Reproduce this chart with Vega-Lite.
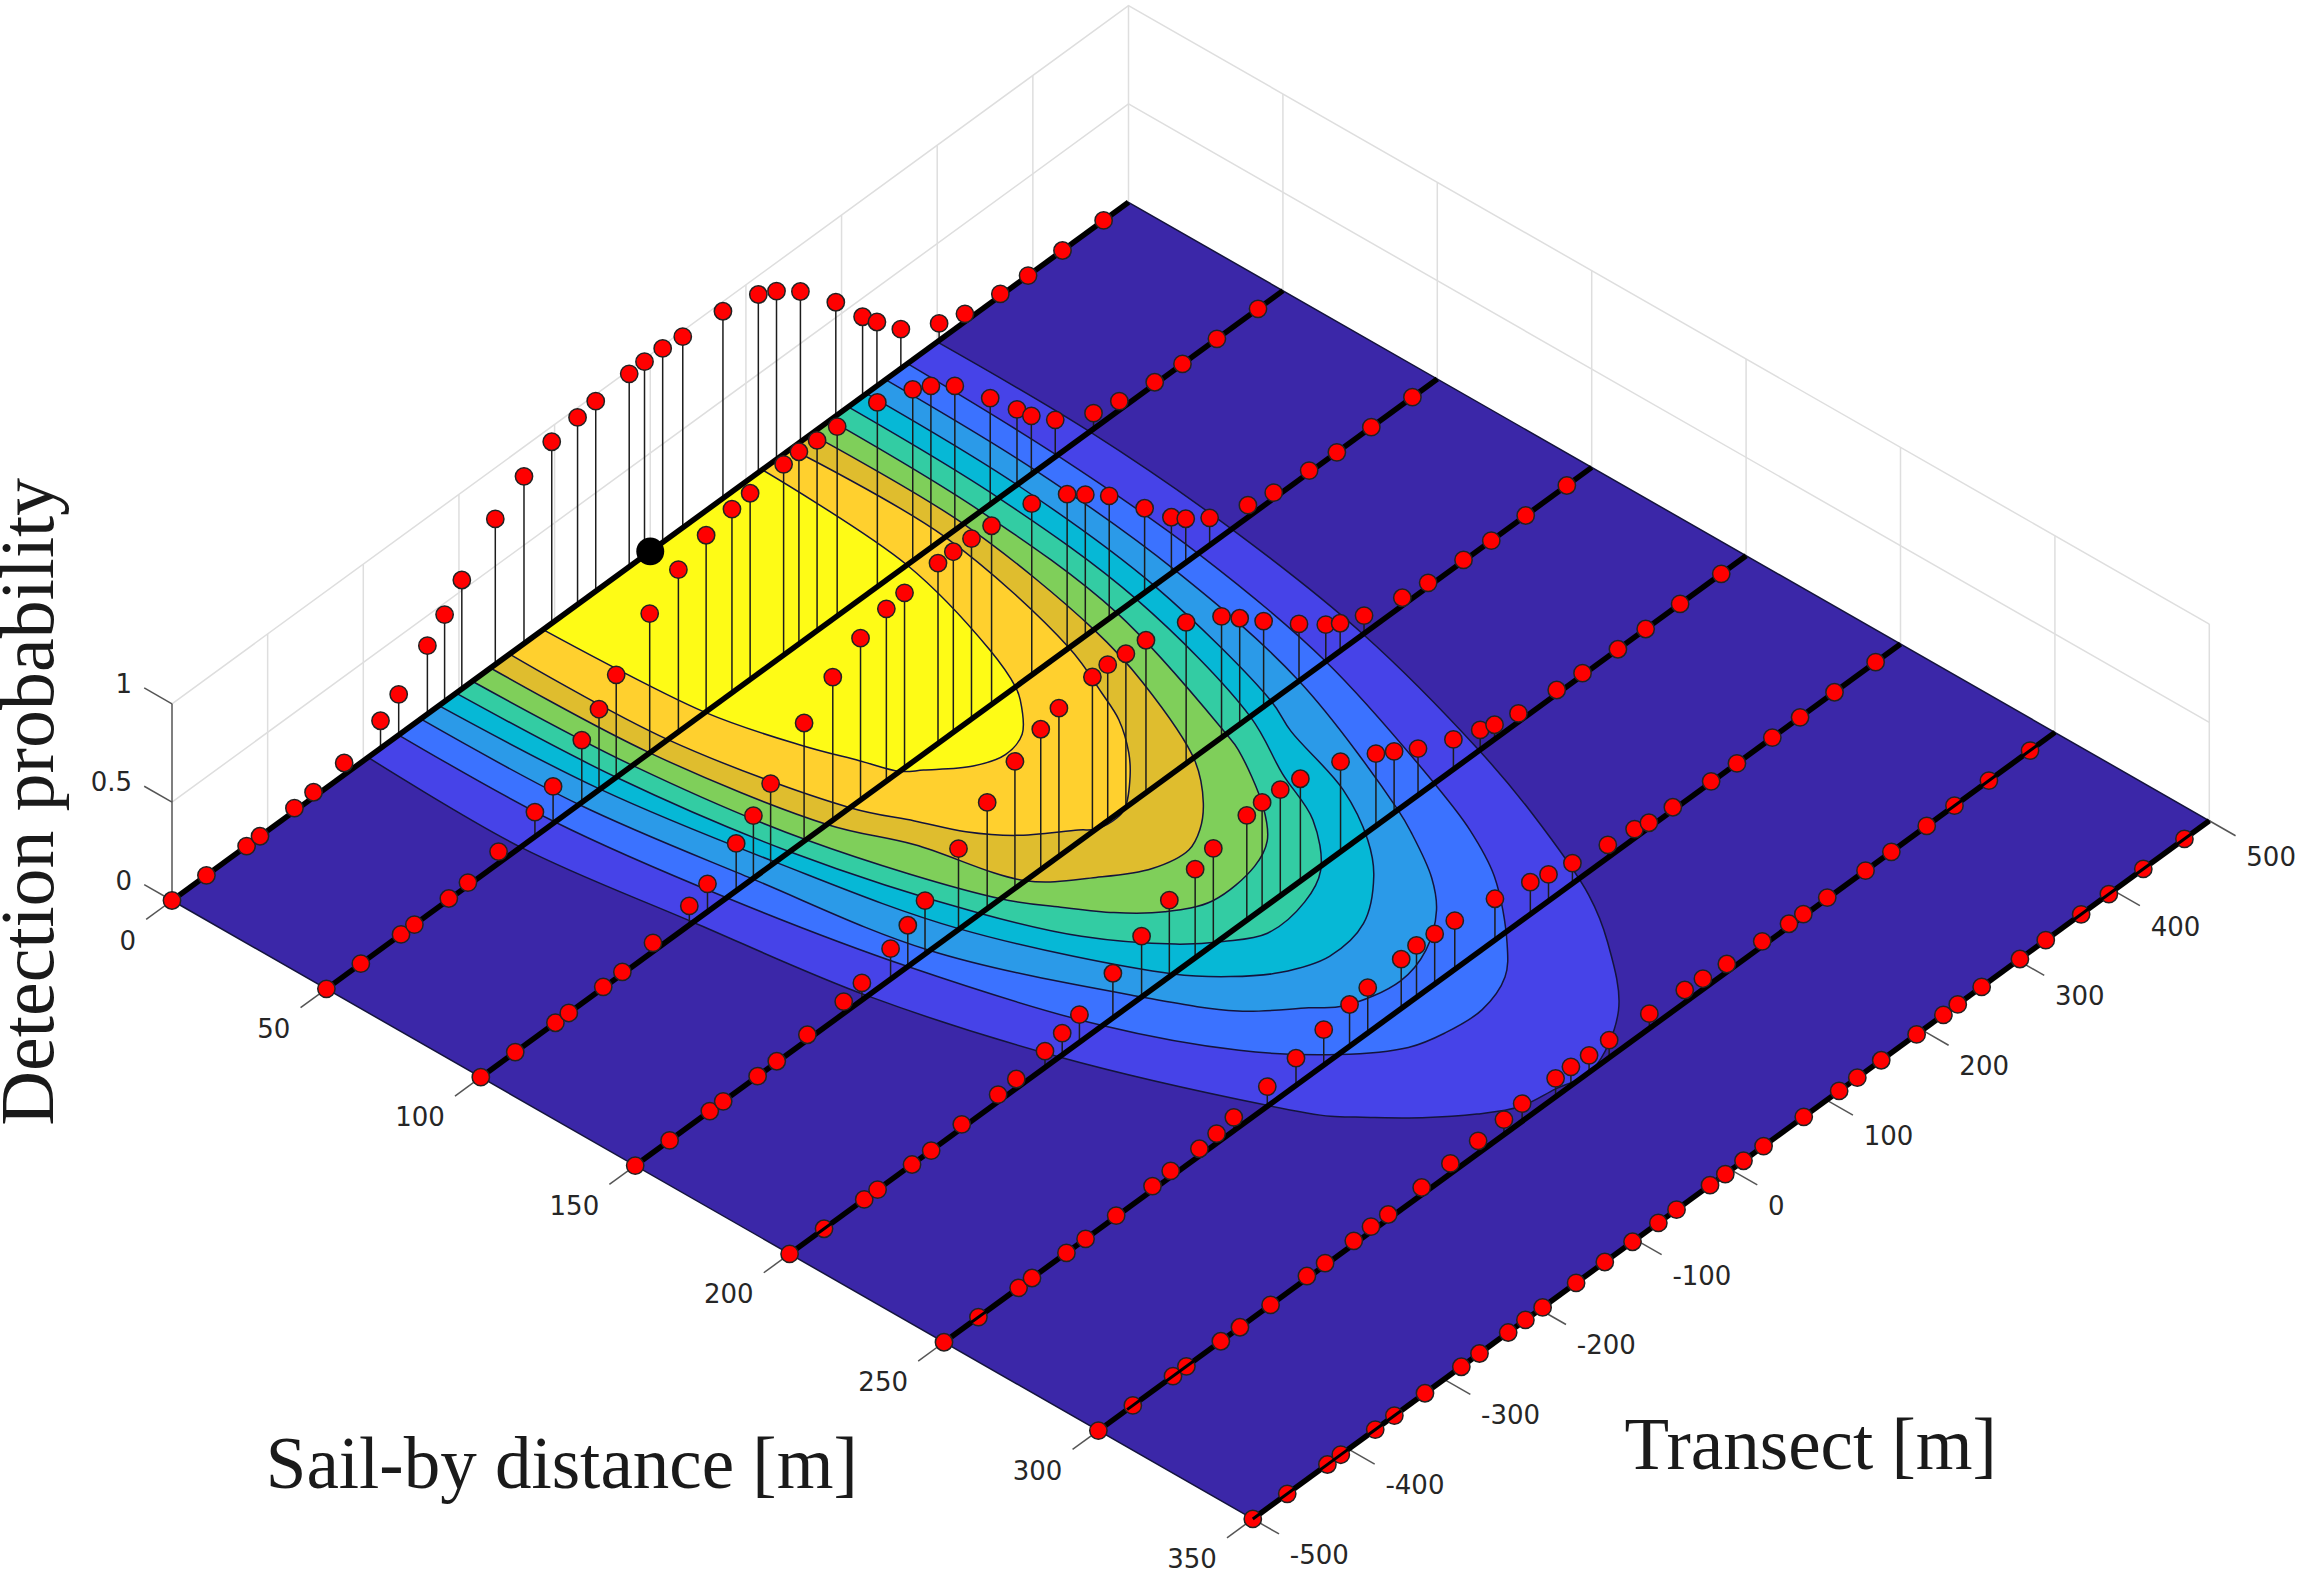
{"$schema":"https://vega.github.io/schema/vega-lite/v6.json","width":2303,"height":1573,"padding":0,"autosize":"none","background":"white","config":{"view":{"stroke":null}},
"data":{"values":[
{"k":"g","g":1,"i":0,"s":0,"t":-500,"z":0.5},{"k":"g","g":1,"i":1,"s":0,"t":500,"z":0.5},{"k":"g","g":1,"i":2,"s":350,"t":500,"z":0.5},
{"k":"g","g":2,"i":0,"s":0,"t":-500,"z":1},{"k":"g","g":2,"i":1,"s":0,"t":500,"z":1},{"k":"g","g":2,"i":2,"s":350,"t":500,"z":1},
{"k":"g","g":3,"i":0,"s":0,"t":-400,"z":0},{"k":"g","g":3,"i":1,"s":0,"t":-400,"z":1},
{"k":"g","g":4,"i":0,"s":0,"t":-300,"z":0},{"k":"g","g":4,"i":1,"s":0,"t":-300,"z":1},
{"k":"g","g":5,"i":0,"s":0,"t":-200,"z":0},{"k":"g","g":5,"i":1,"s":0,"t":-200,"z":1},
{"k":"g","g":6,"i":0,"s":0,"t":-100,"z":0},{"k":"g","g":6,"i":1,"s":0,"t":-100,"z":1},
{"k":"g","g":7,"i":0,"s":0,"t":0,"z":0},{"k":"g","g":7,"i":1,"s":0,"t":0,"z":1},
{"k":"g","g":8,"i":0,"s":0,"t":100,"z":0},{"k":"g","g":8,"i":1,"s":0,"t":100,"z":1},
{"k":"g","g":9,"i":0,"s":0,"t":200,"z":0},{"k":"g","g":9,"i":1,"s":0,"t":200,"z":1},
{"k":"g","g":10,"i":0,"s":0,"t":300,"z":0},{"k":"g","g":10,"i":1,"s":0,"t":300,"z":1},
{"k":"g","g":11,"i":0,"s":0,"t":400,"z":0},{"k":"g","g":11,"i":1,"s":0,"t":400,"z":1},
{"k":"g","g":12,"i":0,"s":0,"t":500,"z":0},{"k":"g","g":12,"i":1,"s":0,"t":500,"z":1},
{"k":"g","g":13,"i":0,"s":50,"t":500,"z":0},{"k":"g","g":13,"i":1,"s":50,"t":500,"z":1},
{"k":"g","g":14,"i":0,"s":100,"t":500,"z":0},{"k":"g","g":14,"i":1,"s":100,"t":500,"z":1},
{"k":"g","g":15,"i":0,"s":150,"t":500,"z":0},{"k":"g","g":15,"i":1,"s":150,"t":500,"z":1},
{"k":"g","g":16,"i":0,"s":200,"t":500,"z":0},{"k":"g","g":16,"i":1,"s":200,"t":500,"z":1},
{"k":"g","g":17,"i":0,"s":250,"t":500,"z":0},{"k":"g","g":17,"i":1,"s":250,"t":500,"z":1},
{"k":"g","g":18,"i":0,"s":300,"t":500,"z":0},{"k":"g","g":18,"i":1,"s":300,"t":500,"z":1},
{"k":"g","g":19,"i":0,"s":350,"t":500,"z":0},{"k":"g","g":19,"i":1,"s":350,"t":500,"z":1},
{"k":"a","g":1,"i":0,"s":0,"t":-500,"z":0},{"k":"a","g":1,"i":1,"s":0,"t":-500,"z":1},
{"k":"a","g":2,"i":0,"s":0,"t":-500,"z":0},{"k":"a","g":2,"i":1,"s":-9,"t":-500,"z":0},
{"k":"a","g":3,"i":0,"s":0,"t":-500,"z":0.5},{"k":"a","g":3,"i":1,"s":-9,"t":-500,"z":0.5},
{"k":"a","g":4,"i":0,"s":0,"t":-500,"z":1},{"k":"a","g":4,"i":1,"s":-9,"t":-500,"z":1},
{"k":"a","g":10,"i":0,"s":0,"t":-500},{"k":"a","g":10,"i":1,"s":0,"t":-527},
{"k":"a","g":11,"i":0,"s":50,"t":-500},{"k":"a","g":11,"i":1,"s":50,"t":-527},
{"k":"a","g":12,"i":0,"s":100,"t":-500},{"k":"a","g":12,"i":1,"s":100,"t":-527},
{"k":"a","g":13,"i":0,"s":150,"t":-500},{"k":"a","g":13,"i":1,"s":150,"t":-527},
{"k":"a","g":14,"i":0,"s":200,"t":-500},{"k":"a","g":14,"i":1,"s":200,"t":-527},
{"k":"a","g":15,"i":0,"s":250,"t":-500},{"k":"a","g":15,"i":1,"s":250,"t":-527},
{"k":"a","g":16,"i":0,"s":300,"t":-500},{"k":"a","g":16,"i":1,"s":300,"t":-527},
{"k":"a","g":17,"i":0,"s":350,"t":-500},{"k":"a","g":17,"i":1,"s":350,"t":-527},
{"k":"a","g":20,"i":0,"s":350,"t":-500},{"k":"a","g":20,"i":1,"s":358.5,"t":-500},
{"k":"a","g":21,"i":0,"s":350,"t":-400},{"k":"a","g":21,"i":1,"s":358.5,"t":-400},
{"k":"a","g":22,"i":0,"s":350,"t":-300},{"k":"a","g":22,"i":1,"s":358.5,"t":-300},
{"k":"a","g":23,"i":0,"s":350,"t":-200},{"k":"a","g":23,"i":1,"s":358.5,"t":-200},
{"k":"a","g":24,"i":0,"s":350,"t":-100},{"k":"a","g":24,"i":1,"s":358.5,"t":-100},
{"k":"a","g":25,"i":0,"s":350,"t":0},{"k":"a","g":25,"i":1,"s":358.5,"t":0},
{"k":"a","g":26,"i":0,"s":350,"t":100},{"k":"a","g":26,"i":1,"s":358.5,"t":100},
{"k":"a","g":27,"i":0,"s":350,"t":200},{"k":"a","g":27,"i":1,"s":358.5,"t":200},
{"k":"a","g":28,"i":0,"s":350,"t":300},{"k":"a","g":28,"i":1,"s":358.5,"t":300},
{"k":"a","g":29,"i":0,"s":350,"t":400},{"k":"a","g":29,"i":1,"s":358.5,"t":400},
{"k":"a","g":30,"i":0,"s":350,"t":500},{"k":"a","g":30,"i":1,"s":358.5,"t":500},
{"k":"f","i":0,"s":0,"t":-500},{"k":"f","i":1,"s":350,"t":-500},{"k":"f","i":2,"s":350,"t":500},{"k":"f","i":3,"s":0,"t":500},{"k":"f","i":4,"s":0,"t":-500},
{"k":"c","g":1,"i":0,"s":0,"t":-295},{"k":"c","g":1,"i":1,"s":50,"t":-297},{"k":"c","g":1,"i":2,"s":100,"t":-278},{"k":"c","g":1,"i":3,"s":150,"t":-257},{"k":"c","g":1,"i":4,"s":200,"t":-218},{"k":"c","g":1,"i":5,"s":250,"t":-161},{"k":"c","g":1,"i":6,"s":264,"t":-141},{"k":"c","g":1,"i":7,"s":270,"t":-127},{"k":"c","g":1,"i":8,"s":281,"t":-100},{"k":"c","g":1,"i":9,"s":290,"t":-72},{"k":"c","g":1,"i":10,"s":296,"t":-46},{"k":"c","g":1,"i":11,"s":298,"t":-16},{"k":"c","g":1,"i":12,"s":300,"t":16},{"k":"c","g":1,"i":13,"s":290,"t":76},{"k":"c","g":1,"i":14,"s":271,"t":126},{"k":"c","g":1,"i":15,"s":256,"t":155},{"k":"c","g":1,"i":16,"s":225,"t":195},{"k":"c","g":1,"i":17,"s":200,"t":221},{"k":"c","g":1,"i":18,"s":150,"t":261},{"k":"c","g":1,"i":19,"s":100,"t":285},{"k":"c","g":1,"i":20,"s":50,"t":298},{"k":"c","g":1,"i":21,"s":0,"t":300},
{"k":"c","g":2,"i":0,"s":0,"t":-263},{"k":"c","g":2,"i":1,"s":50,"t":-261},{"k":"c","g":2,"i":2,"s":100,"t":-243},{"k":"c","g":2,"i":3,"s":150,"t":-215},{"k":"c","g":2,"i":4,"s":200,"t":-173},{"k":"c","g":2,"i":5,"s":231,"t":-130},{"k":"c","g":2,"i":6,"s":250,"t":-88},{"k":"c","g":2,"i":7,"s":261,"t":-50},{"k":"c","g":2,"i":8,"s":264,"t":-22},{"k":"c","g":2,"i":9,"s":265,"t":14},{"k":"c","g":2,"i":10,"s":261,"t":51},{"k":"c","g":2,"i":11,"s":253,"t":79},{"k":"c","g":2,"i":12,"s":234,"t":127},{"k":"c","g":2,"i":13,"s":218,"t":153},{"k":"c","g":2,"i":14,"s":200,"t":174},{"k":"c","g":2,"i":15,"s":150,"t":222},{"k":"c","g":2,"i":16,"s":100,"t":250},{"k":"c","g":2,"i":17,"s":50,"t":264},{"k":"c","g":2,"i":18,"s":0,"t":269},
{"k":"c","g":3,"i":0,"s":0,"t":-240},{"k":"c","g":3,"i":1,"s":50,"t":-236},{"k":"c","g":3,"i":2,"s":100,"t":-216},{"k":"c","g":3,"i":3,"s":150,"t":-192},{"k":"c","g":3,"i":4,"s":200,"t":-132},{"k":"c","g":3,"i":5,"s":221,"t":-99},{"k":"c","g":3,"i":6,"s":233,"t":-64},{"k":"c","g":3,"i":7,"s":239,"t":-46},{"k":"c","g":3,"i":8,"s":243,"t":0},{"k":"c","g":3,"i":9,"s":240,"t":36},{"k":"c","g":3,"i":10,"s":232,"t":73},{"k":"c","g":3,"i":11,"s":223,"t":97},{"k":"c","g":3,"i":12,"s":208,"t":124},{"k":"c","g":3,"i":13,"s":200,"t":136},{"k":"c","g":3,"i":14,"s":150,"t":194},{"k":"c","g":3,"i":15,"s":100,"t":226},{"k":"c","g":3,"i":16,"s":50,"t":242},{"k":"c","g":3,"i":17,"s":0,"t":246},
{"k":"c","g":4,"i":0,"s":0,"t":-221},{"k":"c","g":4,"i":1,"s":50,"t":-214},{"k":"c","g":4,"i":2,"s":100,"t":-192},{"k":"c","g":4,"i":3,"s":150,"t":-161},{"k":"c","g":4,"i":4,"s":200,"t":-99},{"k":"c","g":4,"i":5,"s":211,"t":-75},{"k":"c","g":4,"i":6,"s":219,"t":-49},{"k":"c","g":4,"i":7,"s":224,"t":-13},{"k":"c","g":4,"i":8,"s":222,"t":29},{"k":"c","g":4,"i":9,"s":212,"t":72},{"k":"c","g":4,"i":10,"s":202,"t":98},{"k":"c","g":4,"i":11,"s":185,"t":127},{"k":"c","g":4,"i":12,"s":161,"t":150},{"k":"c","g":4,"i":13,"s":150,"t":165},{"k":"c","g":4,"i":14,"s":100,"t":204},{"k":"c","g":4,"i":15,"s":50,"t":222},{"k":"c","g":4,"i":16,"s":0,"t":226},
{"k":"c","g":5,"i":0,"s":0,"t":-203},{"k":"c","g":5,"i":1,"s":50,"t":-197},{"k":"c","g":5,"i":2,"s":100,"t":-177},{"k":"c","g":5,"i":3,"s":150,"t":-139},{"k":"c","g":5,"i":4,"s":174,"t":-111},{"k":"c","g":5,"i":5,"s":193,"t":-74},{"k":"c","g":5,"i":6,"s":201,"t":-50},{"k":"c","g":5,"i":7,"s":207,"t":-23},{"k":"c","g":5,"i":8,"s":206,"t":19},{"k":"c","g":5,"i":9,"s":201,"t":52},{"k":"c","g":5,"i":10,"s":187,"t":89},{"k":"c","g":5,"i":11,"s":170,"t":112},{"k":"c","g":5,"i":12,"s":150,"t":143},{"k":"c","g":5,"i":13,"s":100,"t":185},{"k":"c","g":5,"i":14,"s":50,"t":203},{"k":"c","g":5,"i":15,"s":0,"t":207},
{"k":"c","g":6,"i":0,"s":0,"t":-186},{"k":"c","g":6,"i":1,"s":50,"t":-180},{"k":"c","g":6,"i":2,"s":100,"t":-160},{"k":"c","g":6,"i":3,"s":150,"t":-118},{"k":"c","g":6,"i":4,"s":163,"t":-97},{"k":"c","g":6,"i":5,"s":174,"t":-77},{"k":"c","g":6,"i":6,"s":183,"t":-53},{"k":"c","g":6,"i":7,"s":189,"t":-22},{"k":"c","g":6,"i":8,"s":188,"t":25},{"k":"c","g":6,"i":9,"s":184,"t":51},{"k":"c","g":6,"i":10,"s":175,"t":76},{"k":"c","g":6,"i":11,"s":156,"t":111},{"k":"c","g":6,"i":12,"s":150,"t":118},{"k":"c","g":6,"i":13,"s":100,"t":165},{"k":"c","g":6,"i":14,"s":50,"t":184},{"k":"c","g":6,"i":15,"s":0,"t":188},
{"k":"c","g":7,"i":0,"s":0,"t":-167},{"k":"c","g":7,"i":1,"s":50,"t":-162},{"k":"c","g":7,"i":2,"s":100,"t":-138},{"k":"c","g":7,"i":3,"s":121,"t":-114},{"k":"c","g":7,"i":4,"s":150,"t":-92},{"k":"c","g":7,"i":5,"s":162,"t":-57},{"k":"c","g":7,"i":6,"s":170,"t":-24},{"k":"c","g":7,"i":7,"s":172,"t":8},{"k":"c","g":7,"i":8,"s":169,"t":29},{"k":"c","g":7,"i":9,"s":163,"t":52},{"k":"c","g":7,"i":10,"s":151,"t":82},{"k":"c","g":7,"i":11,"s":122,"t":121},{"k":"c","g":7,"i":12,"s":100,"t":141},{"k":"c","g":7,"i":13,"s":50,"t":166},{"k":"c","g":7,"i":14,"s":0,"t":168},
{"k":"c","g":8,"i":0,"s":0,"t":-147},{"k":"c","g":8,"i":1,"s":50,"t":-143},{"k":"c","g":8,"i":2,"s":100,"t":-114},{"k":"c","g":8,"i":3,"s":115,"t":-95},{"k":"c","g":8,"i":4,"s":127,"t":-80},{"k":"c","g":8,"i":5,"s":137,"t":-60},{"k":"c","g":8,"i":6,"s":147,"t":-27},{"k":"c","g":8,"i":7,"s":150,"t":-18},{"k":"c","g":8,"i":8,"s":151,"t":0},{"k":"c","g":8,"i":9,"s":150,"t":12},{"k":"c","g":8,"i":10,"s":143,"t":40},{"k":"c","g":8,"i":11,"s":137,"t":58},{"k":"c","g":8,"i":12,"s":127,"t":80},{"k":"c","g":8,"i":13,"s":117,"t":94},{"k":"c","g":8,"i":14,"s":100,"t":115},{"k":"c","g":8,"i":15,"s":50,"t":147},{"k":"c","g":8,"i":16,"s":0,"t":147},
{"k":"c","g":9,"i":0,"s":0,"t":-112},{"k":"c","g":9,"i":1,"s":50,"t":-104},{"k":"c","g":9,"i":2,"s":76,"t":-86},{"k":"c","g":9,"i":3,"s":90,"t":-72},{"k":"c","g":9,"i":4,"s":100,"t":-62},{"k":"c","g":9,"i":5,"s":104,"t":-50},{"k":"c","g":9,"i":6,"s":112,"t":-24},{"k":"c","g":9,"i":7,"s":115,"t":0},{"k":"c","g":9,"i":8,"s":113,"t":24},{"k":"c","g":9,"i":9,"s":104,"t":51},{"k":"c","g":9,"i":10,"s":100,"t":59},{"k":"c","g":9,"i":11,"s":86,"t":77},{"k":"c","g":9,"i":12,"s":50,"t":107},{"k":"c","g":9,"i":13,"s":0,"t":117},
{"k":"l","g":0,"i":0,"s":0,"t":-500},{"k":"l","g":0,"i":1,"s":0,"t":500},{"k":"l","g":50,"i":0,"s":50,"t":-500},{"k":"l","g":50,"i":1,"s":50,"t":500},{"k":"l","g":100,"i":0,"s":100,"t":-500},{"k":"l","g":100,"i":1,"s":100,"t":500},{"k":"l","g":150,"i":0,"s":150,"t":-500},{"k":"l","g":150,"i":1,"s":150,"t":500},{"k":"l","g":200,"i":0,"s":200,"t":-500},{"k":"l","g":200,"i":1,"s":200,"t":500},{"k":"l","g":250,"i":0,"s":250,"t":-500},{"k":"l","g":250,"i":1,"s":250,"t":500},{"k":"l","g":300,"i":0,"s":300,"t":-500},{"k":"l","g":300,"i":1,"s":300,"t":500},{"k":"l","g":350,"i":0,"s":350,"t":-500},{"k":"l","g":350,"i":1,"s":350,"t":500},
{"k":"p","s":0,"t":-500,"z":0},{"k":"p","s":0,"t":-464,"z":0},{"k":"p","s":0,"t":-422,"z":0},{"k":"p","s":0,"t":-408,"z":0},{"k":"p","s":0,"t":-372,"z":0.015},{"k":"p","s":0,"t":-352,"z":0.025},{"k":"p","s":0,"t":-320,"z":0.06},{"k":"p","s":0,"t":-282,"z":0.14},{"k":"p","s":0,"t":-263,"z":0.207},{"k":"p","s":0,"t":-233,"z":0.348},{"k":"p","s":0,"t":-215,"z":0.442},{"k":"p","s":0,"t":-197,"z":0.554},{"k":"p","s":0,"t":-162,"z":0.74},{"k":"p","s":0,"t":-132,"z":0.85},{"k":"p","s":0,"t":-103,"z":0.923},{"k":"p","s":0,"t":-76,"z":0.951},{"k":"p","s":0,"t":-57,"z":0.966},{"k":"p","s":0,"t":-22,"z":0.981},{"k":"p","s":0,"t":-6,"z":0.986},{"k":"p","s":0,"t":13,"z":0.986},{"k":"p","s":0,"t":34,"z":0.971},{"k":"p","s":0,"t":76,"z":0.951},{"k":"p","s":0,"t":113,"z":0.905},{"k":"p","s":0,"t":132,"z":0.855},{"k":"p","s":0,"t":157,"z":0.764},{"k":"p","s":0,"t":194,"z":0.578},{"k":"p","s":0,"t":222,"z":0.405},{"k":"p","s":0,"t":237,"z":0.325},{"k":"p","s":0,"t":262,"z":0.2},{"k":"p","s":0,"t":302,"z":0.087},{"k":"p","s":0,"t":329,"z":0.04},{"k":"p","s":0,"t":366,"z":0.01},{"k":"p","s":0,"t":395,"z":0},{"k":"p","s":0,"t":431,"z":0},{"k":"p","s":0,"t":474,"z":0},
{"k":"p","s":50,"t":-500,"z":0},{"k":"p","s":50,"t":-464,"z":0},{"k":"p","s":50,"t":-422,"z":0},{"k":"p","s":50,"t":-408,"z":0},{"k":"p","s":50,"t":-372,"z":0.005},{"k":"p","s":50,"t":-352,"z":0.015},{"k":"p","s":50,"t":-320,"z":0.059},{"k":"p","s":50,"t":-282,"z":0.125},{"k":"p","s":50,"t":-263,"z":0.188},{"k":"p","s":50,"t":-233,"z":0.317},{"k":"p","s":50,"t":-215,"z":0.41},{"k":"p","s":50,"t":-197,"z":0.521},{"k":"p","s":50,"t":-162,"z":0.708},{"k":"p","s":50,"t":-132,"z":0.825},{"k":"p","s":50,"t":-103,"z":0.897},{"k":"p","s":50,"t":-76,"z":0.934},{"k":"p","s":50,"t":-57,"z":0.947},{"k":"p","s":50,"t":-22,"z":0.97},{"k":"p","s":50,"t":-6,"z":0.977},{"k":"p","s":50,"t":13,"z":0.967},{"k":"p","s":50,"t":34,"z":0.963},{"k":"p","s":50,"t":76,"z":0.937},{"k":"p","s":50,"t":113,"z":0.872},{"k":"p","s":50,"t":132,"z":0.822},{"k":"p","s":50,"t":157,"z":0.733},{"k":"p","s":50,"t":194,"z":0.54},{"k":"p","s":50,"t":222,"z":0.383},{"k":"p","s":50,"t":237,"z":0.297},{"k":"p","s":50,"t":262,"z":0.188},{"k":"p","s":50,"t":302,"z":0.08},{"k":"p","s":50,"t":329,"z":0.045},{"k":"p","s":50,"t":366,"z":0.01},{"k":"p","s":50,"t":395,"z":0},{"k":"p","s":50,"t":431,"z":0},{"k":"p","s":50,"t":474,"z":0},
{"k":"p","s":100,"t":-500,"z":0},{"k":"p","s":100,"t":-464,"z":0},{"k":"p","s":100,"t":-422,"z":0},{"k":"p","s":100,"t":-408,"z":0},{"k":"p","s":100,"t":-372,"z":0.005},{"k":"p","s":100,"t":-352,"z":0.01},{"k":"p","s":100,"t":-320,"z":0.044},{"k":"p","s":100,"t":-282,"z":0.097},{"k":"p","s":100,"t":-263,"z":0.142},{"k":"p","s":100,"t":-233,"z":0.241},{"k":"p","s":100,"t":-215,"z":0.318},{"k":"p","s":100,"t":-197,"z":0.417},{"k":"p","s":100,"t":-162,"z":0.601},{"k":"p","s":100,"t":-132,"z":0.728},{"k":"p","s":100,"t":-103,"z":0.823},{"k":"p","s":100,"t":-76,"z":0.876},{"k":"p","s":100,"t":-57,"z":0.89},{"k":"p","s":100,"t":-22,"z":0.917},{"k":"p","s":100,"t":-6,"z":0.918},{"k":"p","s":100,"t":13,"z":0.917},{"k":"p","s":100,"t":34,"z":0.908},{"k":"p","s":100,"t":76,"z":0.871},{"k":"p","s":100,"t":113,"z":0.788},{"k":"p","s":100,"t":132,"z":0.718},{"k":"p","s":100,"t":157,"z":0.623},{"k":"p","s":100,"t":194,"z":0.429},{"k":"p","s":100,"t":222,"z":0.284},{"k":"p","s":100,"t":237,"z":0.223},{"k":"p","s":100,"t":262,"z":0.139},{"k":"p","s":100,"t":302,"z":0.062},{"k":"p","s":100,"t":329,"z":0.029},{"k":"p","s":100,"t":366,"z":0.01},{"k":"p","s":100,"t":395,"z":0},{"k":"p","s":100,"t":431,"z":0},{"k":"p","s":100,"t":474,"z":0},
{"k":"p","s":150,"t":-500,"z":0},{"k":"p","s":150,"t":-464,"z":0},{"k":"p","s":150,"t":-422,"z":0},{"k":"p","s":150,"t":-408,"z":0},{"k":"p","s":150,"t":-372,"z":0},{"k":"p","s":150,"t":-352,"z":0.005},{"k":"p","s":150,"t":-320,"z":0.026},{"k":"p","s":150,"t":-282,"z":0.06},{"k":"p","s":150,"t":-263,"z":0.087},{"k":"p","s":150,"t":-233,"z":0.155},{"k":"p","s":150,"t":-215,"z":0.21},{"k":"p","s":150,"t":-197,"z":0.271},{"k":"p","s":150,"t":-162,"z":0.411},{"k":"p","s":150,"t":-132,"z":0.54},{"k":"p","s":150,"t":-103,"z":0.646},{"k":"p","s":150,"t":-76,"z":0.713},{"k":"p","s":150,"t":-57,"z":0.753},{"k":"p","s":150,"t":-22,"z":0.787},{"k":"p","s":150,"t":-6,"z":0.793},{"k":"p","s":150,"t":13,"z":0.781},{"k":"p","s":150,"t":34,"z":0.775},{"k":"p","s":150,"t":76,"z":0.717},{"k":"p","s":150,"t":113,"z":0.616},{"k":"p","s":150,"t":132,"z":0.539},{"k":"p","s":150,"t":157,"z":0.436},{"k":"p","s":150,"t":194,"z":0.29},{"k":"p","s":150,"t":222,"z":0.187},{"k":"p","s":150,"t":237,"z":0.141},{"k":"p","s":150,"t":262,"z":0.091},{"k":"p","s":150,"t":302,"z":0.04},{"k":"p","s":150,"t":329,"z":0.02},{"k":"p","s":150,"t":366,"z":0.005},{"k":"p","s":150,"t":395,"z":0},{"k":"p","s":150,"t":431,"z":0},{"k":"p","s":150,"t":474,"z":0},
{"k":"p","s":200,"t":-500,"z":0},{"k":"p","s":200,"t":-464,"z":0},{"k":"p","s":200,"t":-422,"z":0},{"k":"p","s":200,"t":-408,"z":0},{"k":"p","s":200,"t":-372,"z":0},{"k":"p","s":200,"t":-352,"z":0},{"k":"p","s":200,"t":-320,"z":0.02},{"k":"p","s":200,"t":-282,"z":0.036},{"k":"p","s":200,"t":-263,"z":0.048},{"k":"p","s":200,"t":-233,"z":0.083},{"k":"p","s":200,"t":-215,"z":0.111},{"k":"p","s":200,"t":-197,"z":0.141},{"k":"p","s":200,"t":-162,"z":0.227},{"k":"p","s":200,"t":-132,"z":0.309},{"k":"p","s":200,"t":-103,"z":0.389},{"k":"p","s":200,"t":-76,"z":0.451},{"k":"p","s":200,"t":-57,"z":0.489},{"k":"p","s":200,"t":-22,"z":0.533},{"k":"p","s":200,"t":-6,"z":0.542},{"k":"p","s":200,"t":13,"z":0.539},{"k":"p","s":200,"t":34,"z":0.52},{"k":"p","s":200,"t":76,"z":0.458},{"k":"p","s":200,"t":113,"z":0.367},{"k":"p","s":200,"t":132,"z":0.311},{"k":"p","s":200,"t":157,"z":0.237},{"k":"p","s":200,"t":194,"z":0.152},{"k":"p","s":200,"t":222,"z":0.101},{"k":"p","s":200,"t":237,"z":0.074},{"k":"p","s":200,"t":262,"z":0.043},{"k":"p","s":200,"t":302,"z":0.02},{"k":"p","s":200,"t":329,"z":0.01},{"k":"p","s":200,"t":366,"z":0},{"k":"p","s":200,"t":395,"z":0},{"k":"p","s":200,"t":431,"z":0},{"k":"p","s":200,"t":474,"z":0},
{"k":"p","s":250,"t":-500,"z":0},{"k":"p","s":250,"t":-464,"z":0},{"k":"p","s":250,"t":-422,"z":0},{"k":"p","s":250,"t":-408,"z":0},{"k":"p","s":250,"t":-372,"z":0},{"k":"p","s":250,"t":-352,"z":0},{"k":"p","s":250,"t":-320,"z":0.005},{"k":"p","s":250,"t":-282,"z":0.02},{"k":"p","s":250,"t":-263,"z":0.03},{"k":"p","s":250,"t":-233,"z":0.036},{"k":"p","s":250,"t":-215,"z":0.049},{"k":"p","s":250,"t":-197,"z":0.068},{"k":"p","s":250,"t":-162,"z":0.1},{"k":"p","s":250,"t":-132,"z":0.138},{"k":"p","s":250,"t":-103,"z":0.18},{"k":"p","s":250,"t":-76,"z":0.212},{"k":"p","s":250,"t":-57,"z":0.23},{"k":"p","s":250,"t":-22,"z":0.251},{"k":"p","s":250,"t":-6,"z":0.264},{"k":"p","s":250,"t":13,"z":0.255},{"k":"p","s":250,"t":34,"z":0.248},{"k":"p","s":250,"t":76,"z":0.21},{"k":"p","s":250,"t":113,"z":0.163},{"k":"p","s":250,"t":132,"z":0.135},{"k":"p","s":250,"t":157,"z":0.104},{"k":"p","s":250,"t":194,"z":0.065},{"k":"p","s":250,"t":222,"z":0.046},{"k":"p","s":250,"t":237,"z":0.025},{"k":"p","s":250,"t":262,"z":0.015},{"k":"p","s":250,"t":302,"z":0.005},{"k":"p","s":250,"t":329,"z":0},{"k":"p","s":250,"t":366,"z":0},{"k":"p","s":250,"t":395,"z":0},{"k":"p","s":250,"t":431,"z":0},{"k":"p","s":250,"t":474,"z":0},
{"k":"p","s":300,"t":-500,"z":0},{"k":"p","s":300,"t":-464,"z":0},{"k":"p","s":300,"t":-422,"z":0},{"k":"p","s":300,"t":-408,"z":0},{"k":"p","s":300,"t":-372,"z":0},{"k":"p","s":300,"t":-352,"z":0},{"k":"p","s":300,"t":-320,"z":0},{"k":"p","s":300,"t":-282,"z":0.012},{"k":"p","s":300,"t":-263,"z":0.01},{"k":"p","s":300,"t":-233,"z":0.017},{"k":"p","s":300,"t":-215,"z":0.025},{"k":"p","s":300,"t":-197,"z":0.023},{"k":"p","s":300,"t":-162,"z":0.036},{"k":"p","s":300,"t":-132,"z":0.052},{"k":"p","s":300,"t":-103,"z":0.064},{"k":"p","s":300,"t":-76,"z":0.076},{"k":"p","s":300,"t":-57,"z":0.09},{"k":"p","s":300,"t":-22,"z":0.094},{"k":"p","s":300,"t":-6,"z":0.096},{"k":"p","s":300,"t":13,"z":0.087},{"k":"p","s":300,"t":34,"z":0.09},{"k":"p","s":300,"t":76,"z":0.075},{"k":"p","s":300,"t":113,"z":0.064},{"k":"p","s":300,"t":132,"z":0.054},{"k":"p","s":300,"t":157,"z":0.04},{"k":"p","s":300,"t":194,"z":0.024},{"k":"p","s":300,"t":222,"z":0.014},{"k":"p","s":300,"t":237,"z":0.01},{"k":"p","s":300,"t":262,"z":0.005},{"k":"p","s":300,"t":302,"z":0},{"k":"p","s":300,"t":329,"z":0},{"k":"p","s":300,"t":366,"z":0},{"k":"p","s":300,"t":395,"z":0},{"k":"p","s":300,"t":431,"z":0},{"k":"p","s":300,"t":474,"z":0},
{"k":"p","s":350,"t":-500,"z":0},{"k":"p","s":350,"t":-464,"z":0},{"k":"p","s":350,"t":-422,"z":0},{"k":"p","s":350,"t":-408,"z":0},{"k":"p","s":350,"t":-372,"z":0},{"k":"p","s":350,"t":-352,"z":0},{"k":"p","s":350,"t":-320,"z":0},{"k":"p","s":350,"t":-282,"z":0},{"k":"p","s":350,"t":-263,"z":0},{"k":"p","s":350,"t":-233,"z":0},{"k":"p","s":350,"t":-215,"z":0},{"k":"p","s":350,"t":-197,"z":0},{"k":"p","s":350,"t":-162,"z":0},{"k":"p","s":350,"t":-132,"z":0},{"k":"p","s":350,"t":-103,"z":0},{"k":"p","s":350,"t":-76,"z":0},{"k":"p","s":350,"t":-57,"z":0},{"k":"p","s":350,"t":-22,"z":0},{"k":"p","s":350,"t":-6,"z":0},{"k":"p","s":350,"t":13,"z":0},{"k":"p","s":350,"t":34,"z":0},{"k":"p","s":350,"t":76,"z":0},{"k":"p","s":350,"t":113,"z":0},{"k":"p","s":350,"t":132,"z":0},{"k":"p","s":350,"t":157,"z":0},{"k":"p","s":350,"t":194,"z":0},{"k":"p","s":350,"t":222,"z":0},{"k":"p","s":350,"t":237,"z":0},{"k":"p","s":350,"t":262,"z":0},{"k":"p","s":350,"t":302,"z":0},{"k":"p","s":350,"t":329,"z":0},{"k":"p","s":350,"t":366,"z":0},{"k":"p","s":350,"t":395,"z":0},{"k":"p","s":350,"t":431,"z":0},{"k":"p","s":350,"t":474,"z":0},
{"k":"o","g":1,"i":0,"s":350,"t":-500},{"k":"o","g":1,"i":1,"s":350,"t":-400},
{"k":"o","g":2,"i":0,"s":350,"t":-380},{"k":"o","g":2,"i":1,"s":350,"t":-345},
{"k":"o","g":3,"i":0,"s":350,"t":355},{"k":"o","g":3,"i":1,"s":350,"t":500},
{"k":"o","g":4,"i":0,"s":300,"t":-470},{"k":"o","g":4,"i":1,"s":300,"t":-400},
{"k":"o","g":5,"i":0,"s":300,"t":385},{"k":"o","g":5,"i":1,"s":300,"t":500},
{"k":"o","g":6,"i":0,"s":250,"t":-480},{"k":"o","g":6,"i":1,"s":250,"t":-450},
{"k":"o","g":7,"i":0,"s":200,"t":-480},{"k":"o","g":7,"i":1,"s":200,"t":-450},
{"k":"h","s":0,"t":0,"z":0},
{"k":"xl","s":0,"t":-500,"lab":"0"},{"k":"xl","s":50,"t":-500,"lab":"50"},{"k":"xl","s":100,"t":-500,"lab":"100"},{"k":"xl","s":150,"t":-500,"lab":"150"},{"k":"xl","s":200,"t":-500,"lab":"200"},{"k":"xl","s":250,"t":-500,"lab":"250"},{"k":"xl","s":300,"t":-500,"lab":"300"},{"k":"xl","s":350,"t":-500,"lab":"350"},
{"k":"yl","s":350,"t":-500,"lab":"-500"},{"k":"yl","s":350,"t":-400,"lab":"-400"},{"k":"yl","s":350,"t":-300,"lab":"-300"},{"k":"yl","s":350,"t":-200,"lab":"-200"},{"k":"yl","s":350,"t":-100,"lab":"-100"},{"k":"yl","s":350,"t":0,"lab":"0"},{"k":"yl","s":350,"t":100,"lab":"100"},{"k":"yl","s":350,"t":200,"lab":"200"},{"k":"yl","s":350,"t":300,"lab":"300"},{"k":"yl","s":350,"t":400,"lab":"400"},{"k":"yl","s":350,"t":500,"lab":"500"},
{"k":"zl","s":0,"t":-500,"z":0,"lab":"0"},{"k":"zl","s":0,"t":-500,"z":0.5,"lab":"0.5"},{"k":"zl","s":0,"t":-500,"z":1,"lab":"1"},
{"k":"tx","s":211.4,"t":-775,"lab":"Sail-by distance [m]"},{"k":"tx","s":433.4,"t":-186,"lab":"Transect [m]"},
{"k":"tz","s":-50.3,"t":-486,"lab":"Detection probability"}
]},
"transform":[
{"calculate":"172+3.088*datum.s+0.9565*(datum.t+500)","as":"px"},
{"calculate":"900.5+1.767*datum.s-0.6982*(datum.t+500)","as":"py0"},
{"calculate":"datum.py0-196.7*(datum.z||0)","as":"py"}
],
"encoding":{
"x":{"field":"px","type":"quantitative","scale":{"domain":[0,2303],"nice":false,"zero":false},"axis":null},
"y":{"field":"py","type":"quantitative","scale":{"domain":[1573,0],"nice":false,"zero":false},"axis":null}
},
"layer":[
{"transform":[{"filter":"datum.k=='g'"}],"mark":{"type":"line","stroke":"#dedede","strokeWidth":1.5},"encoding":{"detail":{"field":"g","type":"nominal"},"order":{"field":"i","type":"quantitative"}}},
{"transform":[{"filter":"datum.k=='f'"}],"mark":{"type":"line","fill":"#3b27a8","stroke":"#14143c","strokeWidth":1.5},"encoding":{"order":{"field":"i","type":"quantitative"}}},
{"transform":[{"filter":"datum.k=='c'"}],"mark":{"type":"line","stroke":"#14143c","strokeWidth":1.5,"interpolate":"catmull-rom"},"encoding":{"fill":{"field":"g","type":"ordinal","legend":null,"scale":{"range":["#4643e8","#3b72ff","#2b9ae8","#06b8d6","#33cca3","#7fcf5a","#dfbd2e","#ffd02e","#fefb16"]}},"detail":{"field":"g","type":"ordinal"},"order":{"field":"i","type":"quantitative"}}},
{"transform":[{"filter":"datum.k=='a'"}],"mark":{"type":"line","stroke":"#555555","strokeWidth":1.5},"encoding":{"detail":{"field":"g","type":"nominal"},"order":{"field":"i","type":"quantitative"}}},
{"transform":[{"filter":"datum.k=='p'&&datum.z>=0.01"}],"mark":{"type":"rule","stroke":"#1c1c1c","strokeWidth":1.5},"encoding":{"y2":{"field":"py0"}}},
{"transform":[{"filter":"datum.k=='l'"}],"mark":{"type":"line","stroke":"#000000","strokeWidth":5.5},"encoding":{"detail":{"field":"g","type":"nominal"},"order":{"field":"i","type":"quantitative"}}},
{"transform":[{"filter":"datum.k=='p'"}],"mark":{"type":"point","shape":"circle","filled":true,"fill":"#ff0000","fillOpacity":1,"stroke":"#222222","strokeWidth":1.5,"strokeOpacity":1,"size":300}},
{"transform":[{"filter":"datum.k=='o'"}],"mark":{"type":"line","stroke":"#000000","strokeWidth":3},"encoding":{"detail":{"field":"g","type":"nominal"},"order":{"field":"i","type":"quantitative"}}},
{"transform":[{"filter":"datum.k=='h'"}],"mark":{"type":"point","shape":"circle","filled":true,"fill":"#000000","fillOpacity":1,"size":780}},
{"transform":[{"filter":"datum.k=='xl'"}],"mark":{"type":"text","font":"DejaVu Sans","fontSize":26,"fill":"#262626","align":"right","baseline":"middle","dx":-36,"dy":41},"encoding":{"text":{"field":"lab","type":"nominal"}}},
{"transform":[{"filter":"datum.k=='yl'"}],"mark":{"type":"text","font":"DejaVu Sans","fontSize":26,"fill":"#262626","align":"left","baseline":"middle","dx":37,"dy":37},"encoding":{"text":{"field":"lab","type":"nominal"}}},
{"transform":[{"filter":"datum.k=='zl'"}],"mark":{"type":"text","font":"DejaVu Sans","fontSize":26,"fill":"#262626","align":"right","baseline":"middle","dx":-40,"dy":-19},"encoding":{"text":{"field":"lab","type":"nominal"}}},
{"transform":[{"filter":"datum.k=='tx'"}],"mark":{"type":"text","font":"Liberation Serif","fontSize":73,"fill":"#1a1a1a","align":"center","baseline":"middle"},"encoding":{"text":{"field":"lab","type":"nominal"}}},
{"transform":[{"filter":"datum.k=='tz'"}],"mark":{"type":"text","font":"Liberation Serif","fontSize":76,"fill":"#1a1a1a","align":"center","baseline":"middle","angle":270},"encoding":{"text":{"field":"lab","type":"nominal"}}}
]}
